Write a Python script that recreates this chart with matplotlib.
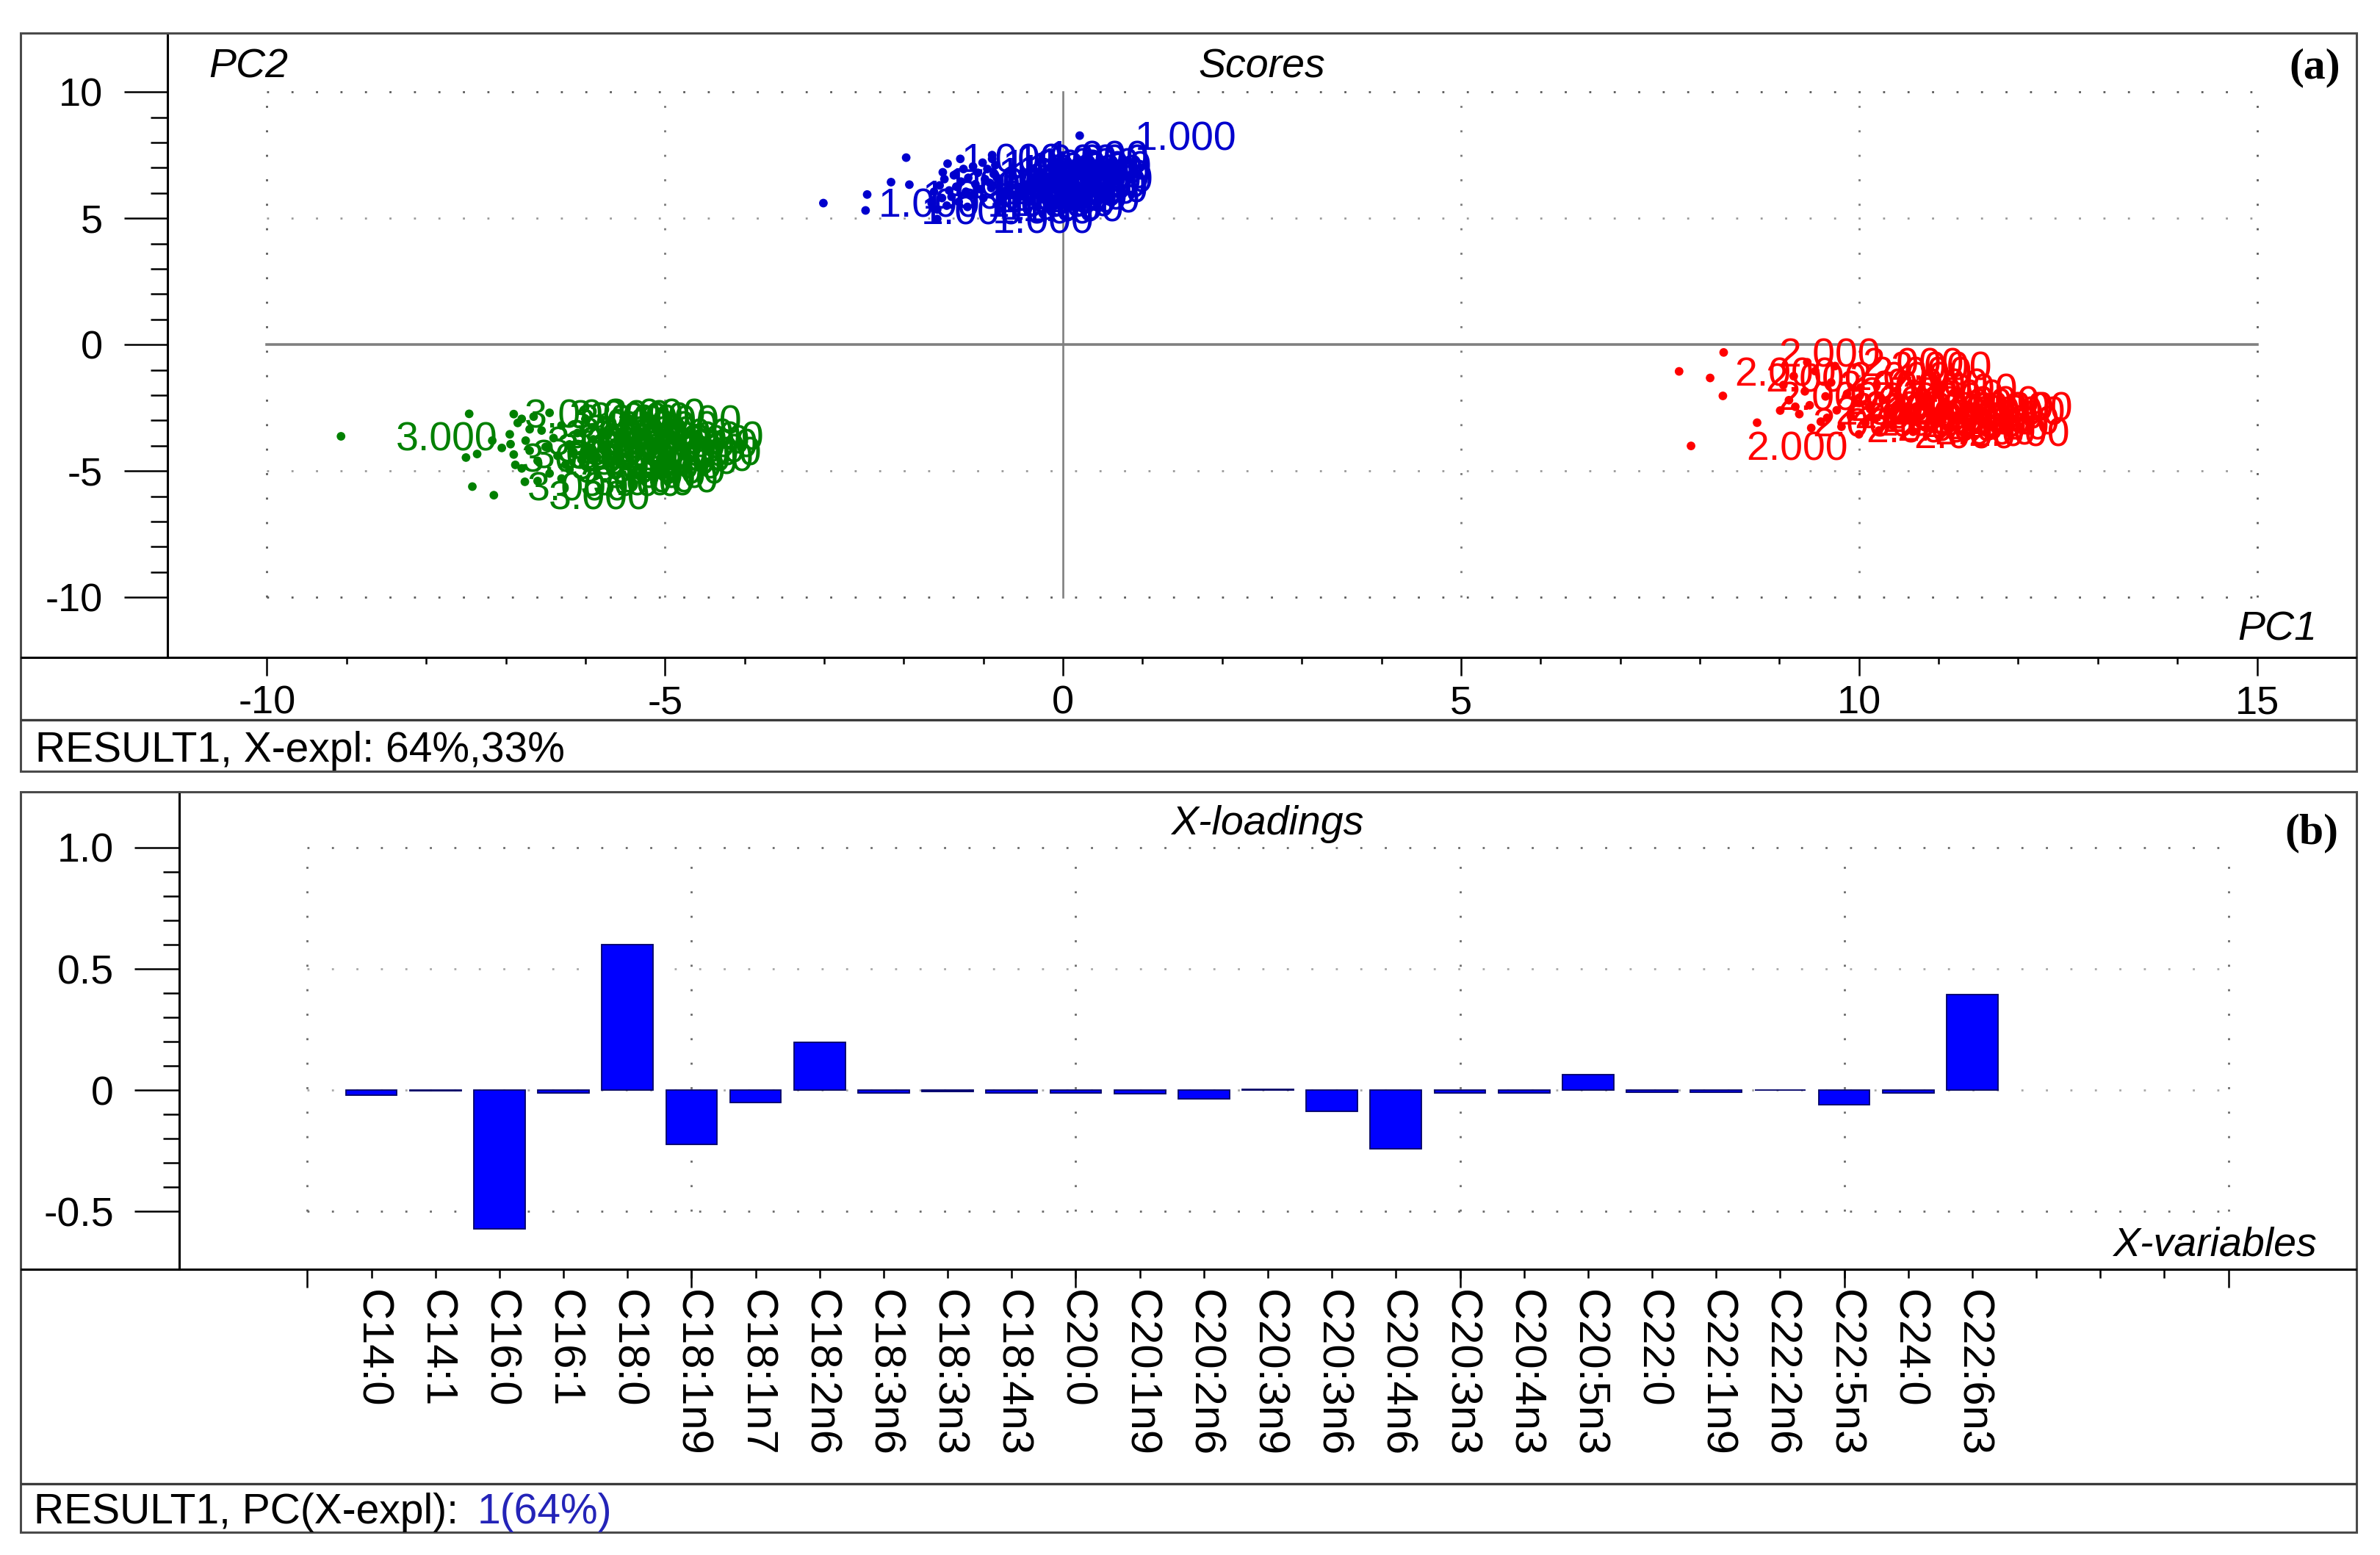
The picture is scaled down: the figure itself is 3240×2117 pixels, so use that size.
import matplotlib
matplotlib.use('Agg')
import matplotlib.pyplot as plt
from matplotlib.ticker import FixedLocator, FixedFormatter
from matplotlib.lines import Line2D
from matplotlib.patches import Rectangle

plt.rcParams['font.family'] = ['Liberation Sans', 'DejaVu Sans']
plt.rcParams['axes.unicode_minus'] = False

# ---------------- data ----------------
class1_x = [-3.01, -2.48, -2.46, -2.16, -1.97, -1.93, -1.58, -1.45, -1.51, -1.29, -0.89, 0.21,
            -1.65, -1.62, -1.58, -1.55, -1.52, -1.49, -1.46, -1.43, -1.40, -1.37, -1.34, -1.31,
            -1.28, -1.25, -1.22, -1.19, -1.16, -1.13, -1.10, -1.07, -1.04, -1.01, -0.98, -0.95,
            -0.92, -0.89, -0.87, -0.85, -0.83, -1.20, -1.00, -0.90]
class1_y = [5.60, 5.31, 5.94, 6.43, 7.40, 6.33, 4.97, 7.16, 6.82, 7.35, 7.50, 8.27,
            5.60, 6.05, 5.35, 6.30, 5.80, 6.55, 5.50, 6.10, 5.85, 6.70, 6.25, 5.65,
            6.45, 6.95, 6.05, 6.60, 5.90, 7.05, 6.35, 6.80, 6.15, 7.20, 6.55, 6.95,
            6.40, 7.35, 6.75, 7.10, 6.60, 5.45, 5.80, 6.20]

class2_x = [8.30, 7.74, 8.13, 8.29, 8.72, 7.89, 9.01, 9.20, 9.35,
            9.05, 9.12, 9.18, 9.25, 9.32, 9.38, 9.45, 9.52, 9.58, 9.65, 9.72, 9.78,
            9.85, 9.90, 9.96, 10.02, 10.08, 10.14, 10.20, 10.25, 10.30, 10.36, 10.42,
            10.48, 10.55, 10.62, 10.68, 10.72, 9.40, 9.70, 10.00, 9.60]
class2_y = [-0.31, -1.06, -1.32, -2.03, -3.09, -4.01, -2.61, -2.46, -0.70,
            -1.60, -2.20, -1.25, -2.75, -1.85, -2.40, -1.05, -3.05, -2.05, -1.50, -2.60, -3.25,
            -1.95, -2.85, -2.30, -1.70, -3.10, -2.55, -2.95, -3.40, -2.20, -2.75, -3.20,
            -2.45, -3.00, -2.60, -3.45, -2.45, -3.30, -0.85, -3.55, -2.90]

class3_x = [-9.07, -7.46, -7.50, -7.36, -7.42, -7.15, -7.17, -7.05, -6.94, -6.80, -6.88, -6.76,
            -6.95, -6.90, -6.85, -6.80, -6.75, -6.70, -6.65, -6.60, -6.55, -6.50, -6.45, -6.40,
            -6.35, -6.30, -6.25, -6.20, -6.15, -6.10, -6.05, -6.00, -5.95, -5.90, -5.85, -5.80,
            -5.75, -5.72, -6.60, -6.30, -6.90, -6.45, -6.70, -6.20]
class3_y = [-3.63, -2.74, -4.47, -4.33, -5.62, -5.96, -3.80, -4.09, -3.94, -2.94, -4.76, -5.43,
            -3.55, -4.35, -3.10, -4.90, -3.80, -4.20, -2.85, -4.60, -3.40, -4.05, -5.10, -3.70,
            -4.40, -3.20, -4.75, -3.95, -4.25, -3.50, -4.55, -2.95, -4.10, -3.75, -4.45, -3.90,
            -4.20, -3.60, -5.40, -5.30, -2.75, -2.70, -3.35, -4.95]

class_labels = ['1.000', '2.000', '3.000']
class_colors = ['#0000CD', '#FF0000', '#008000']

score_xticks = [-10, -5, 0, 5, 10, 15]
score_xticklabels = ['-10', '-5', '0', '5', '10', '15']
score_yticks = [-10, -5, 0, 5, 10]
score_yticklabels = ['-10', '-5', '0', '5', '10']

variables = ['C14:0', 'C14:1', 'C16:0', 'C16:1', 'C18:0', 'C18:1n9', 'C18:1n7', 'C18:2n6',
             'C18:3n6', 'C18:3n3', 'C18:4n3', 'C20:0', 'C20:1n9', 'C20:2n6', 'C20:3n9',
             'C20:3n6', 'C20:4n6', 'C20:3n3', 'C20:4n3', 'C20:5n3', 'C22:0', 'C22:1n9',
             'C22:2n6', 'C22:5n3', 'C24:0', 'C22:6n3']
loadings = [-0.020, -0.003, -0.572, -0.010, 0.600, -0.224, -0.051, 0.198,
            -0.010, -0.004, -0.010, -0.010, -0.015, -0.035, 0.003,
            -0.086, -0.240, -0.010, -0.010, 0.063, -0.008, -0.008,
            0.002, -0.061, -0.010, 0.394]
load_yticks = [-0.5, 0, 0.5, 1.0]
load_yticklabels = ['-0.5', '0', '0.5', '1.0']

# ---------------- figure ----------------
W, H = 3240, 2117
DPI = 100
fig = plt.figure(figsize=(W / DPI, H / DPI), dpi=DPI)
fig.patch.set_facecolor('white')


def fx(px):
    return px / W


def fy(py):
    return 1 - py / H


def fig_hline(py, x0, x1, color='black', lw=2.2):
    fig.add_artist(Line2D([fx(x0), fx(x1)], [fy(py), fy(py)], transform=fig.transFigure,
                          color=color, lw=lw, solid_capstyle='butt'))


def frame(x0, y0, x1, y1):
    fig.add_artist(Rectangle((fx(x0), fy(y1)), fx(x1) - fx(x0), fy(y0) - fy(y1),
                             transform=fig.transFigure, fill=False,
                             edgecolor='#4a4a4a', lw=2.2))


DOT = (0, (1, 11))


def dotted(ax, xs, ys, color):
    ax.plot(xs, ys, color=color, lw=2.0, linestyle=DOT, dash_capstyle='butt', zorder=1)


TICKFS = 39

# ---------------- panel (a): scores ----------------
ax1 = fig.add_axes([fx(228), fy(895), fx(3208) - fx(228), fy(45) - fy(895)])
ax1.set_xlim(-11.25, 16.25)
ax1.set_ylim(-12.38, 12.33)
for s in ['top', 'right', 'bottom']:
    ax1.spines[s].set_visible(False)
ax1.spines['left'].set_linewidth(2.2)

ax1.xaxis.set_major_locator(FixedLocator(score_xticks))
ax1.xaxis.set_major_formatter(FixedFormatter(score_xticklabels))
ax1.xaxis.set_minor_locator(FixedLocator(list(range(-10, 16))))
ax1.yaxis.set_major_locator(FixedLocator(score_yticks))
ax1.yaxis.set_major_formatter(FixedFormatter(score_yticklabels))
ax1.yaxis.set_minor_locator(FixedLocator(list(range(-10, 11))))
ax1.tick_params(axis='x', which='major', direction='out', length=18, width=1.8, pad=9,
                labelsize=TICKFS)
ax1.tick_params(axis='x', which='minor', direction='out', length=6.5, width=1.8)
ax1.tick_params(axis='y', which='major', direction='out', length=42.5, width=1.8, pad=21,
                labelsize=TICKFS)
ax1.tick_params(axis='y', which='minor', direction='out', length=16.5, width=1.8)

# grid
for gx in [-10, -5, 5, 10, 15]:
    dotted(ax1, [gx, gx], [-10, 10], '#5a5a5a' if gx in (-10, 15) else '#7a7a7a')
for gy in [-10, 10]:
    dotted(ax1, [-10, 15], [gy, gy], '#5a5a5a')
for gy in [-5, 5]:
    dotted(ax1, [-10, 15], [gy, gy], '#9a9a9a')
ax1.plot([-10, 15], [0, 0], color='#808080', lw=2.6, zorder=1.5)
ax1.plot([0, 0], [-10, 10], color='#808080', lw=1.9, zorder=1.5)

for xs, ys, lab, col in [(class3_x, class3_y, class_labels[2], class_colors[2]),
                         (class1_x, class1_y, class_labels[0], class_colors[0]),
                         (class2_x, class2_y, class_labels[1], class_colors[1])]:
    ax1.scatter(xs, ys, s=72, color=col, edgecolors='none', zorder=3)
    for x, y in zip(xs, ys):
        ax1.annotate(lab, (x, y), xytext=(54, -14), textcoords='offset points',
                     ha='left', va='baseline', color=col, fontsize=40, zorder=4)

frame(28, 45, 3208, 1050)
fig_hline(895, 28, 3208, 'black', 2.2)
fig_hline(980, 28, 3208, '#3a3a3a', 2.4)

fig.text(fx(284), fy(105), 'PC2', style='italic', fontsize=40, ha='left', va='baseline')
fig.text(fx(1718), fy(105), 'Scores', style='italic', fontsize=40, ha='center', va='baseline')
fig.text(fx(3186), fy(106), '(a)', family=['Liberation Serif', 'DejaVu Serif'],
         fontweight='bold', fontsize=43, ha='right', va='baseline')
fig.text(fx(3154), fy(872), 'PC1', style='italic', fontsize=40, ha='right', va='baseline')
fig.text(fx(48), fy(1037), 'RESULT1, X-expl: 64%,33%', fontsize=41, ha='left', va='baseline')

# ---------------- panel (b): loadings ----------------
ax2 = fig.add_axes([fx(244), fy(1728), fx(3208) - fx(244), fy(1078) - fy(1728)])
ax2.set_xlim(-2, 32)
ax2.set_ylim(-0.738, 1.23)
for s in ['top', 'right', 'bottom']:
    ax2.spines[s].set_visible(False)
ax2.spines['left'].set_linewidth(2.2)

positions = list(range(1, len(variables) + 1))
extra_ticks = list(range(len(variables) + 1, 30))
ax2.xaxis.remove_overlapping_locs = False
ax2.xaxis.set_major_locator(FixedLocator(positions + extra_ticks))
ax2.xaxis.set_major_formatter(FixedFormatter(variables + [''] * len(extra_ticks)))
ax2.xaxis.set_minor_locator(FixedLocator([0, 6, 12, 18, 24, 30]))
ax2.yaxis.set_major_locator(FixedLocator(load_yticks))
ax2.yaxis.set_major_formatter(FixedFormatter(load_yticklabels))
ax2.yaxis.set_minor_locator(FixedLocator([i / 10 for i in range(-5, 11)]))
ax2.tick_params(axis='x', which='major', direction='out', length=8.3, width=1.8, pad=12,
                labelsize=43, labelrotation=-90)
ax2.tick_params(axis='x', which='minor', direction='out', length=18, width=1.8)
ax2.tick_params(axis='y', which='major', direction='out', length=44, width=1.8, pad=20,
                labelsize=40)
ax2.tick_params(axis='y', which='minor', direction='out', length=16, width=1.8)

for gx in [0, 6, 12, 18, 24, 30]:
    dotted(ax2, [gx, gx], [-0.5, 1.0], '#6a6a6a')
for gy in [1.0, -0.5]:
    dotted(ax2, [0, 30], [gy, gy], '#6a6a6a')
for gy in [0.5, 0.0]:
    dotted(ax2, [0, 30], [gy, gy], '#a8a8a8')

ax2.bar(positions, loadings, width=0.8, color='#0000FF', edgecolor='#000066',
        linewidth=1.3, zorder=3)

frame(28, 1078, 3208, 2086)
fig_hline(1728, 28, 3208, 'black', 2.2)
fig_hline(2020, 28, 3208, '#3a3a3a', 2.4)

fig.text(fx(1725), fy(1136), 'X-loadings', style='italic', fontsize=40, ha='center',
         va='baseline')
fig.text(fx(3183), fy(1148), '(b)', family=['Liberation Serif', 'DejaVu Serif'],
         fontweight='bold', fontsize=43, ha='right', va='baseline')
fig.text(fx(3154), fy(1709), 'X-variables', style='italic', fontsize=40, ha='right',
         va='baseline')
t = fig.text(fx(46), fy(2074), 'RESULT1, PC(X-expl):', fontsize=41, ha='left', va='baseline')
fig.canvas.draw()
bb = t.get_window_extent()
fig.text(fx(bb.x1 + 26), fy(2074), '1(64%)', fontsize=41, ha='left', va='baseline',
         color='#2424B8')

fig.savefig('out.png', dpi=DPI, facecolor='white')
